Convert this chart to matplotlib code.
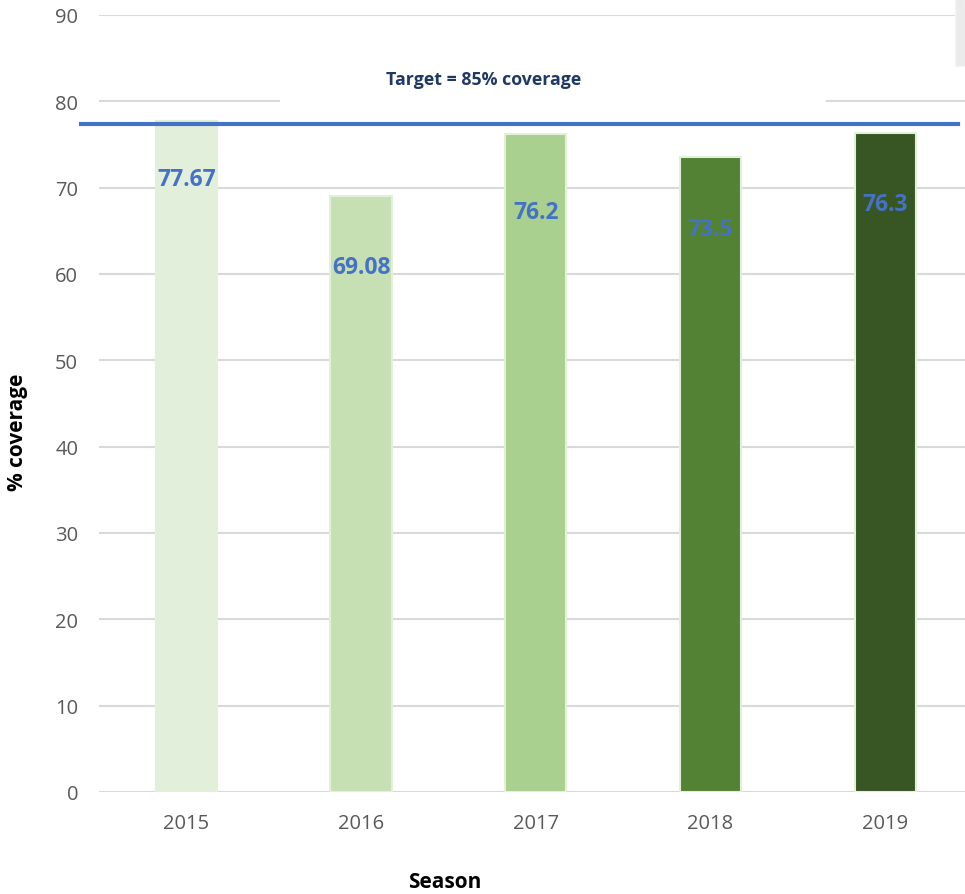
import matplotlib
matplotlib.use('Agg')
import matplotlib.pyplot as plt
from matplotlib.patches import Rectangle

plt.rcParams['font.family'] = ['Open Sans', 'DejaVu Sans']

seasons = ['2015', '2016', '2017', '2018', '2019']
coverage = [77.67, 69.08, 76.2, 73.5, 76.3]
value_labels = ['77.67', '69.08', '76.2', '73.5', '76.3']
bar_colors = ['#E2EFDA', '#C6E0B4', '#A9D08E', '#548235', '#375623']
target_line = 77.4
target_text = 'Target = 85% coverage'
y_ticks = [0, 10, 20, 30, 40, 50, 60, 70, 80, 90]

W, H = 965, 895
fig = plt.figure(figsize=(W / 100, H / 100), dpi=100)
ax = fig.add_axes([99 / W, 102 / H, 873.5 / W, 777 / H])

x = list(range(len(seasons)))
ax.bar(x, coverage, width=0.35, color=bar_colors, edgecolor='#E2F0D9',
       linewidth=1.5, zorder=2)

# data labels sit inside the bars, a fixed distance below the top
label_dy = [-58, -71, -78, -72, -71]
for xi, v, lab, dy in zip(x, coverage, value_labels, label_dy):
    ax.annotate(lab, (xi, v), xytext=(0, dy * 0.72), textcoords='offset points',
                ha='center', va='center', fontsize=16.5, fontweight='bold',
                color='#4472C4', zorder=4)

ax.set_xlim(-0.5, 4.5)
ax.set_ylim(0, 90)
ax.set_yticks(y_ticks)
ax.set_xticks(x)
ax.set_xticklabels(seasons)
ax.tick_params(length=0, labelsize=14.5, labelcolor='#595959')
ax.tick_params(axis='y', pad=15)
ax.tick_params(axis='x', pad=15)
ax.grid(axis='y', color='#D9D9D9', linewidth=1.5, zorder=0)
ax.set_axisbelow(True)
for s in ax.spines.values():
    s.set_visible(False)

# white text box for the target caption (hides part of the 80 gridline)
ax.add_patch(Rectangle((0.537, 78.6), 3.126, 9.2, facecolor='white',
                       edgecolor='none', zorder=1))
ax.text(1.703, 82.6, target_text, ha='center', va='center', fontsize=12.8,
        fontweight='bold', color='#203864', zorder=3)

ax.axhline(target_line, xmin=-0.0206, xmax=0.983, color='#4472C4',
           linewidth=3, clip_on=False, zorder=3)

fig.text(18 / W, 1 - 432 / H, '% coverage', rotation=90, ha='center',
         va='center', fontsize=15, fontweight='bold', color='black')
fig.text(445 / W, 1 - 883 / H, 'Season', ha='center', va='center',
         fontsize=15, fontweight='bold', color='black')

fig.patches.append(Rectangle((955 / W, 1 - 67 / H), 10 / W, 67 / H,
                             transform=fig.transFigure, facecolor='#EBEBEB',
                             edgecolor='#F5F5F5', linewidth=1))

fig.savefig('out.png', dpi=100)
